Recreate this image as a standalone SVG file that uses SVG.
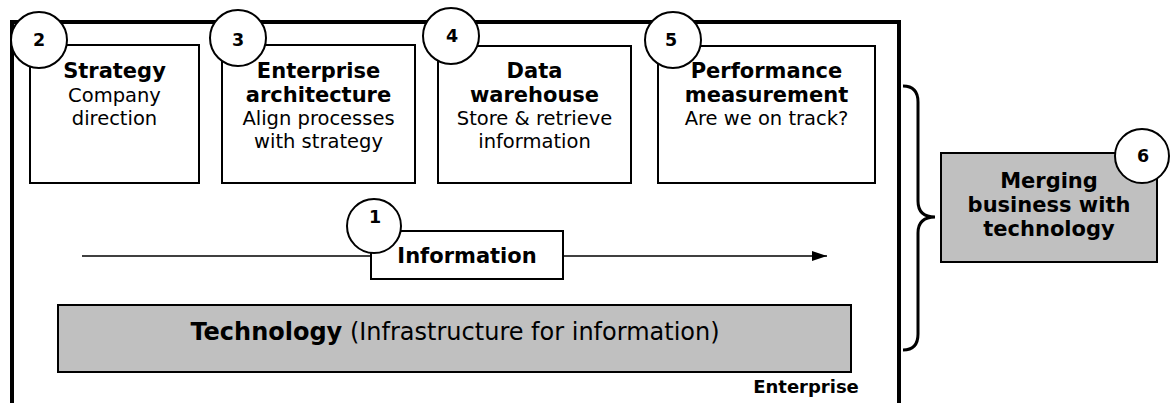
<svg xmlns="http://www.w3.org/2000/svg" width="1170" height="403" viewBox="0 0 1170 403">
  <style>
    text { font-family: "DejaVu Sans", Verdana, sans-serif; fill: #000; text-anchor: middle; }
    .b { font-weight: bold; font-size: 21px; }
    .r { font-size: 19.5px; }
    .num { font-weight: bold; font-size: 17.5px; }
    .box { fill: #fff; stroke: #000; stroke-width: 2; }
    .grey { fill: #c0c0c0; stroke: #000; stroke-width: 2; }
    .badge { fill: #fff; stroke: #000; stroke-width: 2; }
    .wall { fill: none; stroke: #000; stroke-width: 4; }
  </style>
  <defs>
    <marker id="arrowhead" markerUnits="userSpaceOnUse" markerWidth="16" markerHeight="12" refX="15" refY="6" orient="auto">
      <path d="M0 1 L15 6 L0 11 Z" fill="#000"/>
    </marker>
  </defs>
  <rect width="1170" height="403" fill="#fff"/>

  <!-- enterprise frame, open at the bottom -->
  <g id="enterprise">
    <path class="wall" d="M12 410 V22 H899 V410"/>
    <text class="b" x="806" y="393" style="font-size:18px">Enterprise</text>
  </g>

  <!-- connectors: information flow arrow and the brace -->
  <g id="connectors">
    <line x1="82" y1="256" x2="827" y2="256" stroke="#000" stroke-width="1.5" marker-end="url(#arrowhead)"/>
    <path d="M903 86 Q918 86 918 102 L918 201 Q918 217 935 217 Q918 217 918 233 L918 334 Q918 350 903 350" fill="none" stroke="#000" stroke-width="3"/>
  </g>

  <g id="strategy">
    <rect class="box" x="30" y="45" width="169" height="138"/>
    <text class="b" x="114.5" y="78">Strategy</text>
    <text class="r" x="114.5" y="102">Company</text>
    <text class="r" x="114.5" y="125">direction</text>
    <circle class="badge" cx="39" cy="40" r="28"/>
    <text class="num" x="39" y="46">2</text>
  </g>

  <g id="architecture">
    <rect class="box" x="222" y="45" width="193" height="138"/>
    <text class="b" x="318.5" y="78">Enterprise</text>
    <text class="b" x="318.5" y="102">architecture</text>
    <text class="r" x="318.5" y="125">Align processes</text>
    <text class="r" x="318.5" y="148">with strategy</text>
    <circle class="badge" cx="238" cy="38" r="28"/>
    <text class="num" x="238" y="46">3</text>
  </g>

  <g id="warehouse">
    <rect class="box" x="438" y="46" width="193" height="137"/>
    <text class="b" x="534.5" y="78">Data</text>
    <text class="b" x="534.5" y="102">warehouse</text>
    <text class="r" x="534.5" y="125">Store &amp; retrieve</text>
    <text class="r" x="534.5" y="148">information</text>
    <circle class="badge" cx="451" cy="36" r="28"/>
    <text class="num" x="452" y="42">4</text>
  </g>

  <g id="performance">
    <rect class="box" x="658" y="46" width="217" height="137"/>
    <text class="b" x="766.5" y="78">Performance</text>
    <text class="b" x="766.5" y="102">measurement</text>
    <text class="r" x="766.5" y="125">Are we on track?</text>
    <circle class="badge" cx="673" cy="40" r="28"/>
    <text class="num" x="671" y="46">5</text>
  </g>

  <g id="information">
    <rect class="box" x="371" y="231" width="192" height="48"/>
    <text class="b" x="467" y="263">Information</text>
    <circle class="badge" cx="374" cy="226" r="27"/>
    <text class="num" x="375" y="223">1</text>
  </g>

  <g id="technology">
    <rect class="grey" x="58" y="305" width="793" height="67"/>
    <text x="455" y="340" style="font-size:24px"><tspan font-weight="bold">Technology</tspan> (Infrastructure for information)</text>
  </g>

  <g id="merging">
    <rect class="grey" x="941" y="153" width="216" height="109"/>
    <text class="b" x="1049" y="188">Merging</text>
    <text class="b" x="1049" y="212">business with</text>
    <text class="b" x="1049" y="236">technology</text>
    <circle class="badge" cx="1142" cy="156" r="27"/>
    <text class="num" x="1143" y="162">6</text>
  </g>
</svg>
